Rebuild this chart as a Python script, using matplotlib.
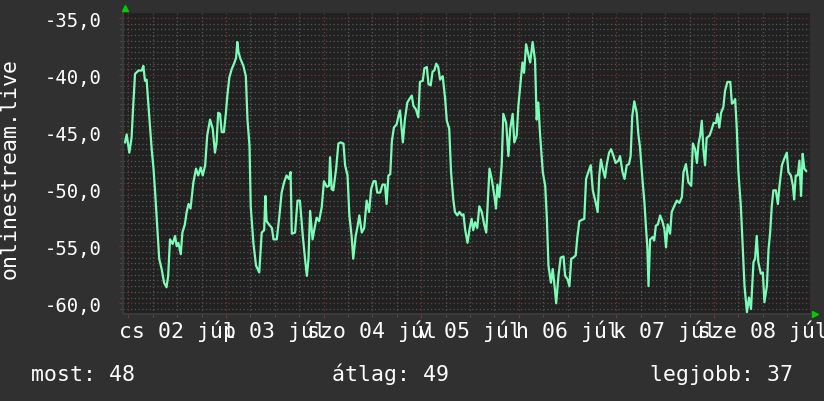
import numpy as np
import matplotlib.pyplot as plt

# hours since 2 Jul 00:00, and signal level
hours = [-0.8, -0.4, 0.25, 0.8, 1.24, 1.65, 2.5, 3.3, 3.7, 4.1, 4.5, 4.9, 5.75, 6.2, 6.6, 7.1,
         7.6, 8.2, 8.8, 9.4, 9.8, 10.25, 10.9, 11.5, 11.9, 12.3, 12.9, 13.3, 13.9, 14.35, 14.8,
         15.3, 16.0, 16.65, 17.2, 17.8, 18.3, 18.9, 19.4, 20.1, 20.75, 21.3, 21.7, 22.1, 22.55,
         22.96, 23.5, 24.0, 24.35, 24.85, 25.4, 26.0, 26.5, 26.8, 27.1, 27.6, 28.3, 28.9, 29.3,
         29.8, 30.1, 30.75, 31.4, 32.2, 32.8, 33.4, 33.7, 34.0, 34.6, 35.3, 35.7, 36.5, 37.1,
         37.7, 38.3, 38.9, 39.5, 39.9, 40.2, 41.0, 41.6, 42.2, 42.9, 43.45, 43.9, 44.3, 44.7,
         45.3, 45.75, 46.3, 46.9, 47.55, 48.1, 48.8, 49.35, 49.6, 50.0, 50.4, 51.1, 51.65, 52.2,
         52.9, 53.3, 53.9, 54.35, 54.9, 55.3, 55.9, 56.4, 56.8, 57.4, 58.0, 58.6, 59.2, 59.7,
         60.3, 60.8, 61.2, 61.9, 62.5, 63.1, 63.5, 63.95, 64.4, 64.8, 65.3, 66.0, 66.4, 66.8,
         67.5, 68.0, 68.6, 69.3, 69.7, 70.1, 70.7, 71.3, 71.7, 72.4, 72.8, 73.4, 73.8, 74.35,
         74.8, 75.25, 75.7, 76.2, 76.65, 77.3, 77.9, 78.3, 78.9, 79.35, 79.9, 80.3, 80.9, 81.4,
         82.0, 82.4, 82.8, 83.4, 83.9, 84.4, 84.8, 85.25, 85.8, 86.3, 86.9, 87.5, 88.0, 88.4,
         88.8, 89.35, 90.0, 90.4, 90.75, 91.2, 91.8, 92.2, 92.9, 93.45, 93.9, 94.5, 94.9, 95.5,
         95.9, 96.5, 96.9, 97.3, 97.8, 98.4, 98.8, 99.4, 100.0, 100.4, 100.8, 101.2, 101.9,
         102.5, 102.9, 103.3, 103.9, 104.35, 104.8, 105.2, 105.75, 106.3, 107.0, 107.4, 108.0,
         108.45, 108.9, 109.4, 110.0, 110.4, 110.9, 111.5, 112.1, 112.55, 113.1, 113.7, 114.2,
         114.8, 115.4, 115.8, 116.2, 116.65, 117.2, 117.6, 118.2, 118.7, 119.3, 119.8, 120.5,
         120.9, 121.5, 122.0, 122.55, 123.1, 123.5, 123.9, 124.4, 125.0, 125.4, 125.8, 126.4,
         126.9, 127.3, 127.6, 127.9, 128.3, 128.9, 129.3, 129.7, 130.2, 130.75, 131.3, 131.8,
         132.2, 132.6, 133.2, 133.6, 134.2, 134.85, 135.5, 136.1, 136.5, 137.1, 137.7, 138.4,
         138.8, 139.35, 139.8, 140.2, 140.6, 141.0, 141.4, 141.8, 142.2, 142.9, 143.3, 143.9,
         144.5, 144.85, 145.3, 145.75, 146.3, 146.7, 147.3, 148.0, 148.4, 148.8, 149.2, 149.6,
         150.0, 150.6, 151.1, 151.5, 152.1, 152.6, 153.1, 153.7, 154.1, 154.5, 154.9, 155.5,
         156.0, 156.4, 157.0, 157.4, 157.8, 158.2, 158.6, 159.2, 159.7, 160.1, 160.7, 161.2,
         161.9, 162.3, 162.9, 163.4, 163.7, 164.1, 164.6, 165.0, 165.4, 165.8, 166.2, 166.65]
level = [-45.9, -45.2, -46.8, -45.5, -42.5, -39.9, -39.6, -39.6, -39.2, -40.5, -40.4, -42.4,
         -46.5, -48.2, -50.3, -53.2, -56.1, -57.0, -58.2, -58.6, -57.6, -54.4, -54.8, -54.1,
         -55.0, -54.7, -55.7, -53.8, -53.1, -52.0, -51.3, -51.7, -49.4, -48.2, -48.8, -48.1,
         -48.8, -47.9, -45.3, -43.9, -44.7, -46.8, -45.9, -43.3, -43.4, -45.0, -45.0, -43.3,
         -41.8, -40.2, -39.5, -39.0, -38.5, -37.1, -38.0, -38.6, -39.2, -40.1, -43.9, -46.2,
         -51.5, -54.7, -56.7, -57.3, -53.8, -53.6, -50.6, -52.8, -53.1, -53.4, -54.4, -54.4,
         -52.5, -50.3, -49.4, -48.8, -49.1, -48.5, -53.9, -53.8, -51.0, -51.0, -54.1, -56.1,
         -57.6, -56.1, -51.9, -54.4, -53.5, -52.5, -52.8, -51.6, -49.3, -49.8, -49.7, -47.2,
         -50.0, -50.1, -48.2, -46.0, -45.9, -46.0, -47.9, -48.8, -52.3, -54.1, -56.1, -54.1,
         -53.2, -52.3, -53.8, -53.4, -51.0, -52.0, -50.0, -49.3, -49.3, -50.3, -50.3, -49.6,
         -49.6, -51.3, -48.8, -48.7, -45.8, -44.6, -44.3, -43.6, -43.1, -45.9, -43.9, -42.4,
         -42.0, -41.8, -42.7, -43.0, -43.7, -40.6, -40.5, -39.4, -39.3, -40.8, -40.9, -39.7,
         -39.6, -39.0, -39.3, -40.4, -40.1, -42.1, -44.0, -44.7, -48.5, -50.9, -52.0, -52.3,
         -52.0, -52.3, -52.2, -53.5, -54.7, -53.5, -52.6, -53.6, -52.9, -53.4, -51.5, -52.0,
         -53.1, -53.8, -51.0, -48.2, -49.1, -50.6, -51.7, -49.6, -50.7, -47.9, -43.4, -44.2,
         -47.1, -44.7, -43.4, -45.9, -45.3, -42.7, -40.4, -38.9, -39.8, -37.3, -38.3, -38.9,
         -37.1, -38.7, -43.9, -42.4, -45.0, -48.5, -49.7, -52.5, -56.7, -58.2, -57.0, -58.5,
         -60.0, -57.6, -56.0, -55.9, -57.6, -57.9, -58.5, -56.1, -56.0, -55.8, -54.2, -52.8,
         -52.7, -52.6, -49.1, -48.5, -47.9, -50.1, -51.0, -52.0, -48.8, -47.4, -48.2, -49.0,
         -47.9, -46.8, -46.5, -47.1, -47.7, -47.5, -47.1, -48.5, -49.1, -47.9, -47.8, -47.1,
         -43.6, -42.3, -43.3, -45.2, -46.3, -49.1, -51.2, -53.5, -55.0, -58.5, -54.4, -54.2,
         -54.5, -53.2, -53.1, -52.3, -52.8, -53.5, -55.1, -53.1, -53.9, -52.0, -51.5, -51.0,
         -51.2, -50.7, -48.5, -47.8, -49.4, -49.7, -46.0, -46.5, -47.7, -46.0, -45.3, -44.0,
         -46.5, -47.9, -45.5, -45.3, -44.9, -44.2, -44.2, -43.4, -44.6, -43.3, -42.8, -41.4,
         -40.6, -40.6, -42.5, -42.4, -42.1, -44.7, -48.5, -51.5, -55.3, -58.5, -60.8, -59.5,
         -60.5, -56.4, -56.1, -54.1, -56.4, -57.4, -57.3, -59.9, -58.5, -55.3, -53.8, -51.5,
         -50.1, -50.1, -51.3, -49.7, -47.9, -47.4, -46.8, -48.5, -48.8, -49.7, -50.9, -48.8,
         -48.8, -47.5, -50.6, -46.9, -48.2, -48.4]

day_labels = ['cs 02 júl', 'p 03 júl', 'szo 04 júl', 'v 05 júl', 'h 06 júl', 'k 07 júl', 'sze 08 júl']
stat_names = ['most', 'átlag', 'legjobb']
stat_values = [48, 49, 37]

font = 'DejaVu Sans Mono'
fsize = 15.5
W, H = 824, 402

fig = plt.figure(figsize=(W / 100, H / 100), dpi=100, facecolor='#303030')
ax = fig.add_axes([123.5 / W, 1 - 315 / H, 686.5 / W, 301 / H])
ax.set_facecolor('#212121')

ax.plot(hours, level, color='#7dfcb8', lw=1.6)

ax.set_xlim(-1.18, 167.6)
ax.set_ylim(-60.94, -34.56)

yt = np.arange(-60, -34, 5)
ax.set_yticks(yt)
ax.set_yticklabels([f'{v:.1f}'.replace('.', ',') for v in yt], fontfamily=font, fontsize=13.6, color='white')
ax.set_yticks(np.arange(-60.5, -34.5, 0.5), minor=True)
ax.set_xticks(np.arange(0, 168, 24))
ax.set_xticks(np.arange(6, 168, 6), minor=True)
ax.set_xticklabels([])

dot = (0, (1, 2))
ax.grid(which='major', color='#7a3434', ls=dot, lw=0.9)
ax.grid(which='minor', color='#575757', ls=dot, lw=0.9)
ax.set_axisbelow(True)
ax.tick_params(which='major', length=3, color='#7a3434', pad=13)
ax.tick_params(which='minor', length=2, color='#575757')
for s in ax.spines.values():
    s.set_visible(False)
ax.axhline(-60.94, color='#3a3a3a', lw=1.5, clip_on=False)
ax.axvline(-1.18, color='#3a3a3a', lw=1.5, clip_on=False)

# day labels centred at noon
for i, lab in enumerate(day_labels):
    ax.text(12 + 24 * i, -0.075, lab, transform=ax.get_xaxis_transform(),
            ha='center', va='baseline', fontfamily=font, fontsize=fsize, color='white',
            clip_on=False)

# arrows at the axis ends
ax.plot([0.002], [1.015], marker='^', ms=5, color='#00cc00', transform=ax.transAxes, clip_on=False)
ax.plot([1.008], [0.0], marker='>', ms=5, color='#00cc00', transform=ax.transAxes, clip_on=False)

fig.text(9.7 / W, 1 - 168.4 / H, 'onlinestream.live', rotation=90, ha='center', va='center',
         fontfamily=font, fontsize=fsize, color='white')

stat_x = [31.5, 332.5, 649.5]
for x, name, val in zip(stat_x, stat_names, stat_values):
    fig.text(x / W, 1 - 381 / H, f'{name}: {val}', ha='left', va='baseline',
             fontfamily=font, fontsize=fsize, color='white')

fig.savefig('out.png', dpi=100, facecolor=fig.get_facecolor())
